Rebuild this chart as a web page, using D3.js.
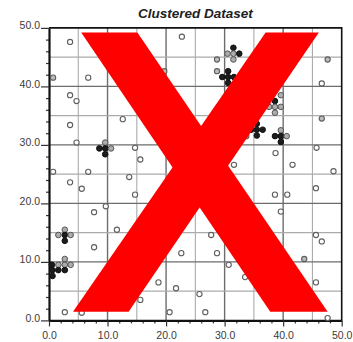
<!DOCTYPE html>
<html>
<head>
<meta charset="utf-8">
<script src="https://cdn.jsdelivr.net/npm/d3@7"></script>
<style>
  body { margin: 0; background: #fff; }
  text { font-family: "Liberation Sans", Arial, sans-serif; }
</style>
</head>
<body>
<div id="dataviz"></div>
<script>
//open circles scattered around the plot ("o" = open, "g" = gray filled)
let openX = [3.6, 22.7, 0.7, 6.7, 19.7, 3.6, 4.7, 12.6, 3.6, 4.7, 14.7, 15.6, 0.7, 6.7, 13.7, 3.6, 5.6, 14.7, 9.7, 7.7, 11.6, 7.7, 22.6, 18.7, 21.7, 15.6, 2.7, 5.6, 20.6,
  28.7, 28.7, 47.6, 46.6, 46.6, 45.7, 38.7, 31.6, 41.6, 48.6, 45.6, 38.6, 40.7, 39.6, 27.7, 45.6, 46.6, 28.7, 43.6, 30.7, 33.5, 45.6, 25.7, 26.7, 47.6, 33.7];
let openY = [47.6, 48.5, 41.5, 41.5, 42.6, 38.5, 37.5, 34.4, 33.4, 30.4, 29.5, 27.5, 25.4, 25.4, 24.5, 23.6, 22.5, 21.5, 19.5, 18.5, 15.5, 12.5, 11.5, 6.5, 5.5, 3.5, 1.4, 1.3, 1.4,
  44.6, 42.6, 44.6, 40.5, 34.5, 29.5, 28.6, 26.6, 26.6, 25.5, 22.6, 21.5, 21.5, 18.6, 14.6, 14.6, 13.5, 11.5, 10.5, 9.5, 7.4, 6.5, 4.5, 1.4, 0.4, 31.5];
let openType = ["o", "o", "g", "o", "g", "o", "o", "o", "o", "o", "o", "o", "o", "o", "o", "o", "o", "o", "o", "o", "o", "o", "o", "o", "o", "o", "o", "o", "o",
  "g", "g", "g", "o", "g", "o", "o", "o", "o", "o", "o", "o", "o", "o", "o", "o", "o", "o", "g", "o", "o", "o", "o", "o", "o", "g"];

//the little "plus" clusters ("d" = dark dot, "g" = gray dot)
let clusterX = [9.6, 8.6, 9.6, 10.6, 9.6,
  31.5, 30.5, 31.5, 32.5, 31.5,
  30.6, 29.6, 30.6, 31.6, 30.6,
  39.6, 38.6, 37.6, 38.6, 39.6, 38.6,
  35.5, 34.5, 35.5, 36.5, 35.5,
  39.6, 38.6, 39.6, 40.6, 39.6,
  2.7, 1.6, 2.7, 3.7, 2.7,
  2.7, 1.6, 2.7, 3.7, 0.5, 0.6, 1.6, 2.7, 0.6];
let clusterY = [30.4, 29.4, 29.4, 29.4, 28.4,
  46.6, 45.6, 45.6, 45.6, 44.6,
  42.6, 41.6, 41.6, 41.6, 40.6,
  38.5, 37.5, 36.5, 36.5, 36.5, 35.5,
  33.6, 32.6, 32.6, 32.6, 31.6,
  32.5, 31.5, 31.5, 31.5, 30.5,
  15.5, 14.6, 14.6, 14.6, 13.6,
  10.5, 9.5, 9.5, 9.5, 9.5, 8.6, 8.6, 8.6, 7.6];
let clusterTone = ["g", "d", "d", "g", "d",
  "d", "g", "g", "d", "g",
  "d", "d", "d", "d", "d",
  "g", "d", "g", "g", "g", "g",
  "d", "d", "d", "d", "d",
  "g", "d", "d", "g", "d",
  "g", "g", "d", "g", "d",
  "g", "g", "g", "g", "d", "d", "d", "d", "d"];

let majorTicks = [0, 10, 20, 30, 40, 50];
let minorTicks = [2, 4, 6, 8, 12, 14, 16, 18, 22, 24, 26, 28, 32, 34, 36, 38, 42, 44, 46, 48];
let gridLines = [5, 10, 15, 20, 25, 30, 35, 40, 45];

//big red cross drawn over the chart, corners in data units
let crossBars = [
  [[5.5, 49.2], [15.1, 49.2], [47.6, 1.5], [37.8, 1.5]],
  [[37.0, 49.2], [46.1, 49.2], [13.6, 1.5], [4.1, 1.5]]
];

let w = 353;
let h = 342;

const svg = d3.select("#dataviz").
append("svg").
attr("width", w).
attr("height", h);

const xScale = d3.scaleLinear().domain([0, 50]).range([49, 341.7]);
const yScale = d3.scaleLinear().domain([0, 50]).range([320.4, 27.9]);

//grid, darker on the tens
svg.append("g").
selectAll("line").
data(gridLines).
enter().
append("line").
attr("x1", d => xScale(d)).
attr("x2", d => xScale(d)).
attr("y1", yScale(0)).
attr("y2", yScale(50)).
attr("stroke", d => d % 10 === 0 ? "#6d6d6d" : "#ababab").
attr("stroke-width", d => d % 10 === 0 ? 1.4 : 1.1);

svg.append("g").
selectAll("line").
data(gridLines).
enter().
append("line").
attr("y1", d => yScale(d)).
attr("y2", d => yScale(d)).
attr("x1", xScale(0)).
attr("x2", xScale(50)).
attr("stroke", d => d % 10 === 0 ? "#6d6d6d" : "#ababab").
attr("stroke-width", d => d % 10 === 0 ? 1.4 : 1.1);

//top and right border
svg.append("path").
attr("d", "M" + xScale(0) + "," + yScale(50) + "H" + xScale(50) + "V" + yScale(0)).
attr("fill", "none").
attr("stroke", "#111").
attr("stroke-width", 1.6);

//axes: minor ticks first, then labelled major ticks
let fmt = d3.format(".1f");

svg.append("g").
attr("transform", "translate(0," + yScale(0) + ")").
call(d3.axisBottom(xScale).tickValues(minorTicks).tickSize(3).tickFormat("")).
call(g => g.select(".domain").remove());

svg.append("g").
attr("transform", "translate(" + xScale(0) + ",0)").
call(d3.axisLeft(yScale).tickValues(minorTicks).tickSize(3).tickFormat("")).
call(g => g.select(".domain").remove());

let xAxis = svg.append("g").
attr("transform", "translate(0," + yScale(0) + ")").
call(d3.axisBottom(xScale).tickValues(majorTicks).tickSize(6).tickSizeOuter(0).tickPadding(5).tickFormat(fmt));

let yAxis = svg.append("g").
attr("transform", "translate(" + xScale(0) + ",0)").
call(d3.axisLeft(yScale).tickValues(majorTicks).tickSize(8).tickSizeOuter(0).tickPadding(1).tickFormat(fmt));

yAxis.selectAll("text").attr("dy", "0.1em");

[xAxis, yAxis].forEach(a => {
  a.select(".domain").attr("stroke", "#111").attr("stroke-width", 2.2);
  a.selectAll("text").
  attr("font-size", 10.5).
  attr("font-family", "'Liberation Sans', Arial, sans-serif").
  attr("fill", "#3a3a3a");
});
svg.selectAll(".tick line").attr("stroke", "#333").attr("stroke-width", 1.2);

//title
svg.append("text").
attr("x", (xScale(0) + xScale(50)) / 2).
attr("y", 17.5).
attr("text-anchor", "middle").
attr("font-size", 13.5).
attr("font-weight", "bold").
attr("font-style", "italic").
attr("fill", "#222").
text("Clustered Dataset");

//scattered circles
svg.append("g").
selectAll("circle").
data(openX).
enter().
append("circle").
attr("cx", d => xScale(d)).
attr("cy", (d, i) => yScale(openY[i])).
attr("r", 2.6).
attr("fill", (d, i) => openType[i] === "g" ? "#bcbcbc" : "#fff").
attr("stroke", "#5e5e5e").
attr("stroke-width", 1.1);

//clusters
svg.append("g").
selectAll("circle").
data(clusterX).
enter().
append("circle").
attr("cx", d => xScale(d)).
attr("cy", (d, i) => yScale(clusterY[i])).
attr("r", 2.8).
attr("fill", (d, i) => clusterTone[i] === "d" ? "#1c1c1c" : "#acacac").
attr("stroke", (d, i) => clusterTone[i] === "d" ? "#111" : "#555").
attr("stroke-width", 1);

//red cross
svg.append("g").
selectAll("path").
data(crossBars).
enter().
append("path").
attr("d", d => "M" + d.map(p => xScale(p[0]) + "," + yScale(p[1])).join("L") + "Z").
attr("fill", "#ff0000");
</script>
</body>
</html>
